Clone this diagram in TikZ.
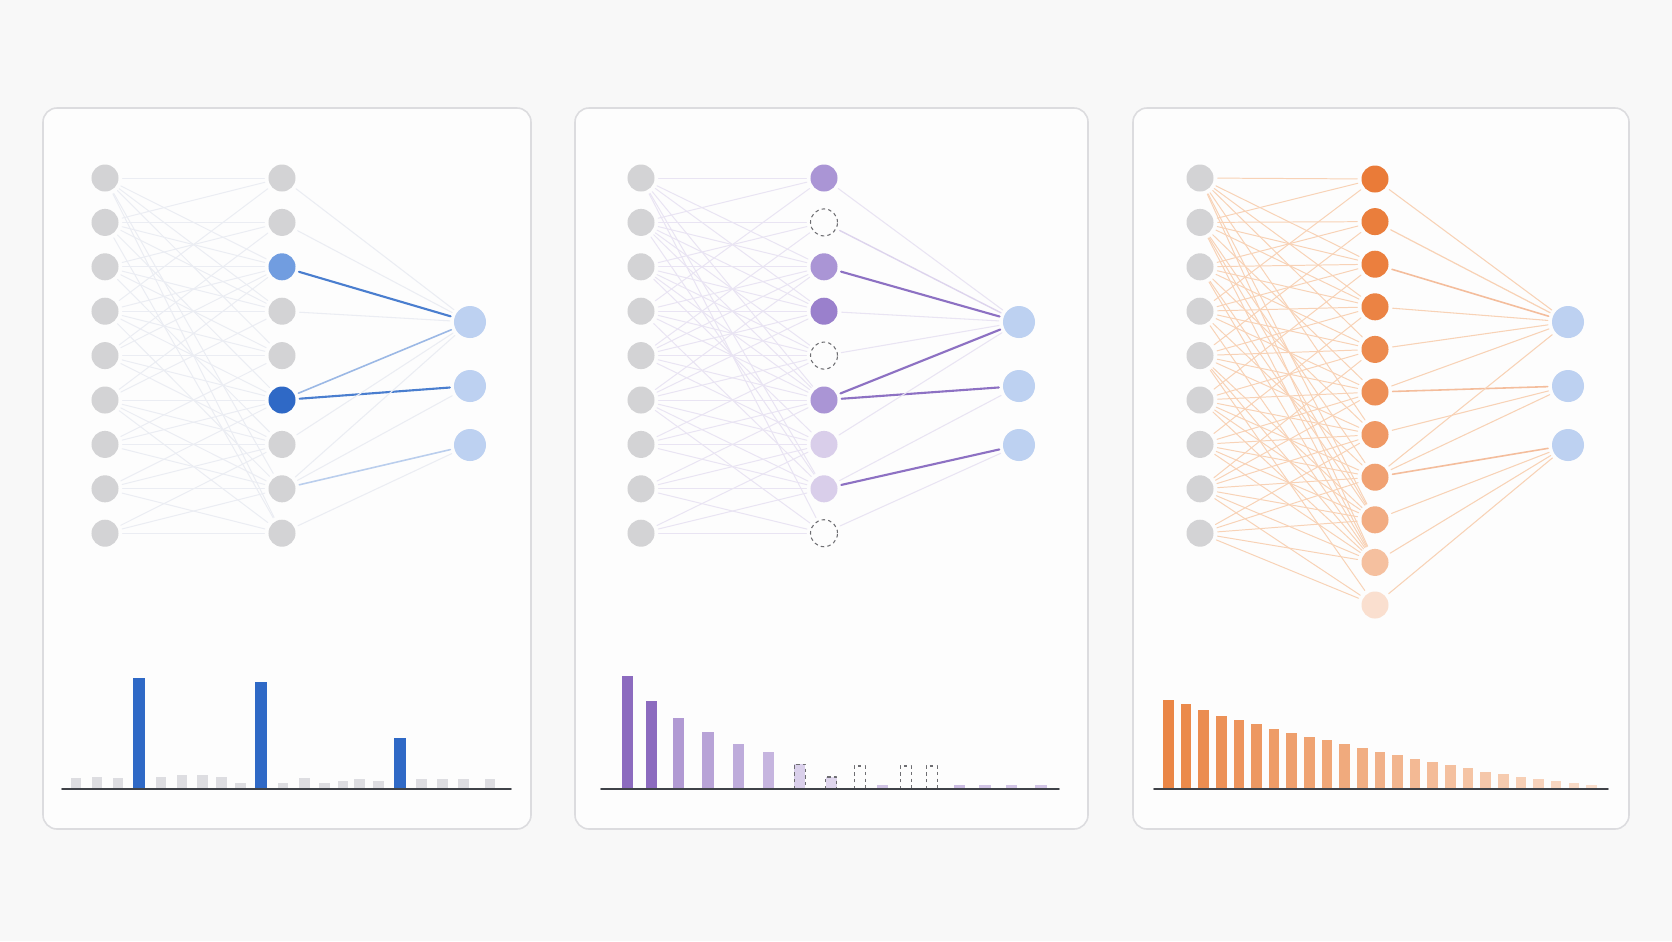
\documentclass[tikz,border=0pt]{standalone}
\usepackage{tikz}
\usetikzlibrary{calc,positioning}
\definecolor{bgpage}{HTML}{F8F8F8}
\definecolor{cardfill}{HTML}{FDFDFD}
\definecolor{cardline}{HTML}{DCDCDF}
\definecolor{nodegray}{HTML}{D3D3D5}
\definecolor{outblue}{HTML}{BDD1F1}
\definecolor{lightblue}{HTML}{719DE0}
\definecolor{deepblue}{HTML}{2F69C6}
\definecolor{wireblue}{HTML}{4A7ECF}
\definecolor{wiregray}{HTML}{EBEDF3}
\definecolor{lavender}{HTML}{AA95D5}
\definecolor{deeppurple}{HTML}{9A80CC}
\definecolor{palepurple}{HTML}{D9CEEA}
\definecolor{wirepurple}{HTML}{8D71C3}
\definecolor{wirelilac}{HTML}{E9E4F3}
\definecolor{burnt}{HTML}{EA7B38}
\definecolor{wireorange}{HTML}{F8D2B6}
\definecolor{axisgray}{HTML}{3F4248}
\definecolor{bargray}{HTML}{DDDDE1}
\definecolor{barpurple}{HTML}{8C6BBF}
\definecolor{barorange}{HTML}{EA8646}
\definecolor{ghostline}{HTML}{6E6E72}

\begin{document}
\begin{tikzpicture}[x=0.01cm,y=-0.01cm,line join=round,line cap=round,
  unit/.style={circle,inner sep=0pt,minimum size=0.27cm},
  outunit/.style={circle,inner sep=0pt,minimum size=0.32cm,fill=outblue},
  dropped/.style={unit,draw=ghostline,line width=0.3pt,dash pattern=on 1pt off 0.9pt,line cap=butt,fill=cardfill},
  wire/.style={line width=0.28pt,shorten <=1pt,shorten >=1pt},
  ghostbar/.style={draw=ghostline,line width=0.3pt,dash pattern=on 1pt off 0.9pt,line cap=butt},
  card/.style={draw=cardline,fill=cardfill,line width=0.45pt,rounded corners=0.14cm}]
\fill[bgpage] (0,0) rectangle (1672,941);
\useasboundingbox (0,0) rectangle (1672,941);
\foreach \l/\r in {43/531,575/1088,1133/1629}{\draw[card] (\l,108) rectangle (\r,829);}

\foreach \i in {1,...,9}{\node[unit,fill=nodegray] (Xa\i) at (105,133.6+44.4*\i) {};}
\foreach \i/\c in {1/nodegray,2/nodegray,3/lightblue,4/nodegray,5/nodegray,6/deepblue,7/nodegray,8/nodegray,9/nodegray}{\node[unit,fill=\c] (Ha\i) at (282,133.6+44.4*\i) {};}
\foreach \i/\y in {1/322,2/386,3/445}{\node[outunit] (Ya\i) at (470,\y) {};}
\foreach \i/\js in {1/{1,3,4,5,8,9},2/{1,2,3,4,6,9},3/{2,3,4,5,7},4/{1,3,4,5,6,8},5/{2,3,5,6,7},6/{3,4,6,7,8,9},7/{5,6,7,8},8/{6,7,8,9},9/{7,8,9}}{\foreach \j in \js {\draw[wire,wiregray] (Xa\i) -- (Ha\j);}}
\foreach \j/\k/\c/\w in {1/1/wiregray/0.3,2/1/wiregray/0.3,3/1/wireblue/0.6,4/1/wiregray/0.3,6/1/wireblue!55/0.45,6/2/wireblue/0.6,7/1/wiregray/0.3,8/1/wiregray/0.3,8/2/wiregray/0.3,8/3/wireblue!38/0.45,9/3/wiregray/0.3}{\draw[wire,draw=\c,line width=\w pt] (Ha\j) -- (Ya\k);}

\foreach \i in {1,...,9}{\node[unit,fill=nodegray] (Xb\i) at (641,133.6+44.4*\i) {};}
\foreach \i/\c in {1/lavender,3/lavender,4/deeppurple,6/lavender,7/palepurple,8/palepurple}{\node[unit,fill=\c] (Hb\i) at (824,133.6+44.4*\i) {};}
\foreach \i in {2,5,9}{\node[dropped] (Hb\i) at (824,133.6+44.4*\i) {};}
\foreach \i/\y in {1/322,2/386,3/445}{\node[outunit] (Yb\i) at (1019,\y) {};}
\foreach \i/\js in {1/{1,3,4,6,8,9},2/{1,2,3,4,5,6,8},3/{2,3,4,5,6,7},4/{1,3,4,5,6,8},5/{2,3,4,5,6,7},6/{3,4,5,6,7,8,9},7/{5,6,7,8},8/{6,7,8,9},9/{7,8,9}}{\foreach \j in \js {\draw[wire,wirelilac] (Xb\i) -- (Hb\j);}}
\foreach \j/\k/\c/\w in {1/1/wirelilac/0.3,2/1/wirepurple!30/0.4,3/1/wirepurple/0.6,4/1/wirelilac/0.3,5/1/wirelilac/0.3,6/1/wirepurple/0.6,6/2/wirepurple/0.6,7/1/wirelilac/0.3,8/2/wirelilac/0.3,8/3/wirepurple/0.6,9/3/wirelilac/0.3}{\draw[wire,draw=\c,line width=\w pt] (Hb\j) -- (Yb\k);}

\foreach \i in {1,...,9}{\node[unit,fill=nodegray] (Xc\i) at (1200,133.6+44.4*\i) {};}
\foreach \i/\p in {1/100,2/98,3/97,4/94,5/89,6/85,7/78,8/71,9/63,10/48,11/24}{\node[unit,fill=burnt!\p!white] (Hc\i) at (1375,136.4+42.6*\i) {};}
\foreach \i/\y in {1/322,2/386,3/445}{\node[outunit] (Yc\i) at (1568,\y) {};}
\foreach \i/\js in {1/{1,3,4,5,7,9,10},2/{1,2,3,4,6,8,9,10},3/{2,3,4,5,7,9,10},4/{1,3,4,5,6,8,10},5/{2,4,5,6,7,9,10,11},6/{3,5,6,7,8,9,10},7/{4,6,7,8,9,10},8/{5,6,7,8,9,10,11},9/{7,8,9,10,11}}{\foreach \j in \js {\draw[wire,wireorange] (Xc\i) -- (Hc\j);}}
\foreach \j/\k/\c/\w in {1/1/wireorange/0.3,2/1/wireorange/0.35,3/1/burnt!50/0.45,4/1/wireorange/0.3,5/1/wireorange/0.3,6/1/wireorange/0.3,6/2/burnt!50/0.45,7/2/wireorange/0.3,8/1/wireorange/0.3,8/2/wireorange/0.3,8/3/burnt!50/0.45,9/3/wireorange/0.3,10/3/wireorange/0.3,11/3/wireorange/0.3}{\draw[wire,draw=\c,line width=\w pt] (Hc\j) -- (Yc\k);}

\foreach \x/\h in {76/10.7,97/12,118/11.3,161/12.3,182/14,202.7/14,221.3/12,240.3/6,283/6,304.3/11.3,324.3/6,343/8.3,359.7/9.7,378.7/7.7,421.7/10,442.7/10,463.7/10.3,490/10.3}{\fill[bargray] (\x-5.3,789) rectangle (\x+5.3,789-\h);}
\foreach \x/\h in {139.3/110.7,261/106.7,400/50.7}{\fill[deepblue] (\x-6,789) rectangle (\x+6,789-\h);}
\coordinate (La) at (62,789);
\coordinate (Ra) at (511,789);
\draw[axisgray,line width=0.45pt] (La) -- (Ra);

\foreach \x/\h/\c in {627.7/112.7/barpurple,651.7/87.7/barpurple,678.3/70.7/barpurple!68,708/57.3/barpurple!62,738.7/45.3/barpurple!56,768.7/37/barpurple!50,882.7/3.7/barpurple!40,959.3/3.7/barpurple!45,985/3.7/barpurple!40,1011.7/3.7/barpurple!40,1041/3.7/barpurple!40}{\fill[\c] (\x-5.6,789) rectangle (\x+5.6,789-\h);}
\foreach \x/\h/\p in {799.7/24.7/32,831.3/12/28}{\fill[barpurple!\p!white] (\x-5.6,789) rectangle (\x+5.6,789-\h);}
\foreach \x/\h in {799.7/24.7,831.3/12,859.7/23,905.7/23,931.7/23}{\draw[ghostbar] (\x-5.6,789) -- (\x-5.6,789-\h) -- (\x+5.6,789-\h) -- (\x+5.6,789);}
\coordinate (Lb) at (601,789);
\coordinate (Rb) at (1059,789);
\draw[axisgray,line width=0.45pt] (Lb) -- (Rb);

\foreach \h [count=\k from 0] in {89.3,84.7,78.7,73.3,69.3,65.3,60,56.3,52.3,48.7,44.7,41,37,33.7,30.3,27,23.7,21,17.3,15.3,12.3,10,7.7,6,4}{\pgfmathsetmacro\p{100-3*\k}\fill[barorange!\p!white] (1168.3+17.63*\k-5.3,789) rectangle ++(10.6,-\h);}
\coordinate (Lc) at (1154,789);
\coordinate (Rc) at (1608,789);
\draw[axisgray,line width=0.45pt] (Lc) -- (Rc);
\end{tikzpicture}
\end{document}
